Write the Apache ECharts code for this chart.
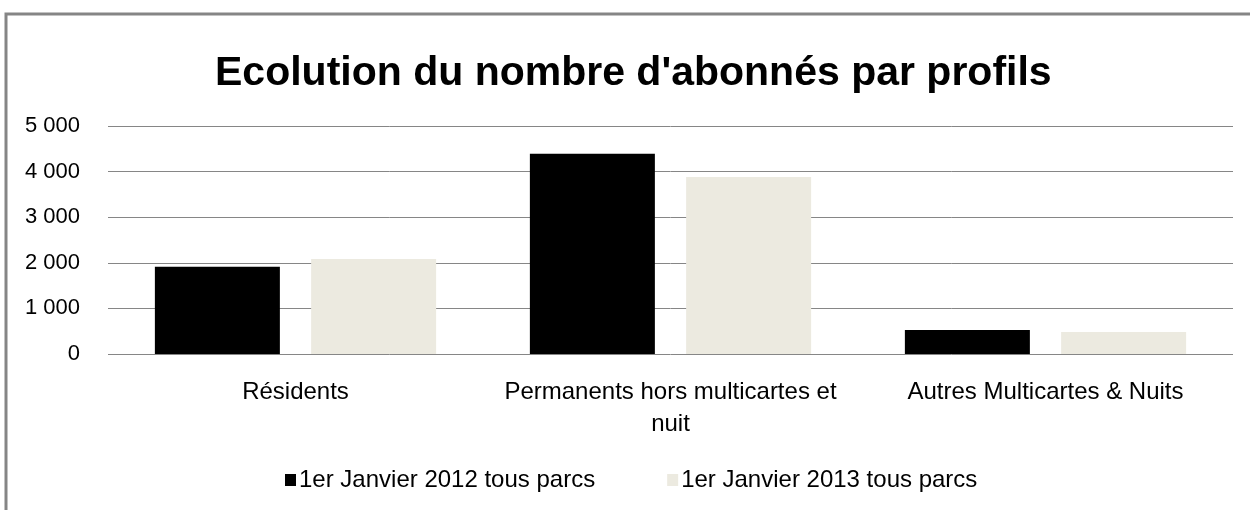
<!DOCTYPE html>
<html><head><meta charset="utf-8">
<script src="https://cdn.jsdelivr.net/npm/echarts@6/dist/echarts.min.js"></script>
<style>html,body{margin:0;padding:0;background:#fff}#c{width:1250px;height:510px}</style>
</head><body><div id="c"></div>
<script>
const titleText = "Ecolution du nombre d'abonnés par profils";
const categories = ["Résidents", "Permanents hors multicartes et\nnuit", "Autres Multicartes & Nuits"];
const seriesNames = ["1er Janvier 2012 tous parcs", "1er Janvier 2013 tous parcs"];
const values2012 = [1915, 4390, 525];
const values2013 = [2085, 3880, 480];
const yTicks = [0, 1000, 2000, 3000, 4000, 5000];

const FONT = "Liberation Sans, sans-serif";
const chart = echarts.init(document.getElementById('c'), null, {renderer: 'canvas'});
chart.setOption({
  animation: false,
  backgroundColor: '#fff',
  title: {
    text: titleText, left: 210, top: 48,
    textStyle: {fontFamily: FONT, fontSize: 41, fontWeight: 'bold', color: '#000'}
  },
  graphic: [{
    type: 'polyline', shape: {points: [[6, 520], [6, 14], [1260, 14]]},
    style: {stroke: '#858585', lineWidth: 3, fill: null}
  }],
  legend: {
    data: seriesNames, bottom: 13, left: 280, itemGap: 72,
    itemWidth: 11, itemHeight: 12, icon: 'rect',
    textStyle: {fontFamily: FONT, fontSize: 24, color: '#000', padding: [0, 0, 0, -2]}
  },
  grid: {left: 108, right: 17, top: 126, bottom: 156},
  xAxis: {
    type: 'category', data: categories,
    axisLine: {show: false}, axisTick: {show: false},
    axisLabel: {interval: 0, fontFamily: FONT, fontSize: 24, color: '#000', margin: 22, lineHeight: 32}
  },
  yAxis: {
    type: 'value', min: 0, max: 5000, interval: 1000,
    axisLine: {show: false}, axisTick: {show: false},
    splitLine: {lineStyle: {color: '#868686', width: 1}},
    axisLabel: {
      fontFamily: FONT, fontSize: 22, color: '#000', margin: 28,
      formatter: v => yTicks.includes(v) ? (v >= 1000 ? Math.floor(v/1000) + ' ' + String(v%1000).padStart(3,'0') : String(v)) : ''
    }
  },
  series: [
    {name: seriesNames[0], type: 'bar', data: values2012, barWidth: 125, barGap: '25%', itemStyle: {color: '#000000'}},
    {name: seriesNames[1], type: 'bar', data: values2013, barWidth: 125, itemStyle: {color: '#ECEAE0'}}
  ]
});
</script></body></html>
